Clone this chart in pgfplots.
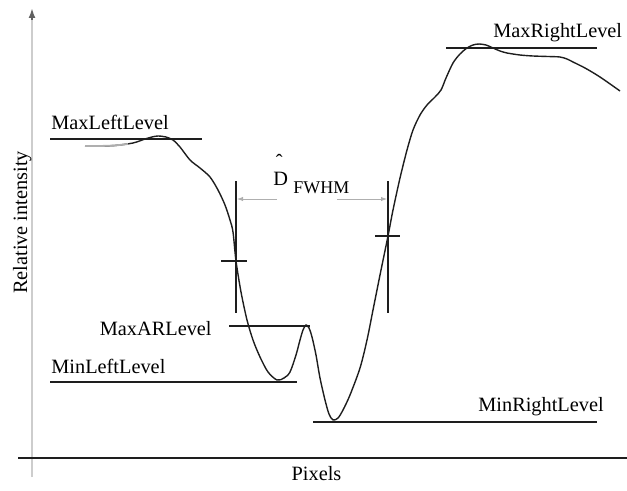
\documentclass[border=0pt]{standalone}
\usepackage{pgfplots}
\pgfplotsset{compat=1.18}
\usepackage{fontspec}
\setmainfont{Liberation Serif}
\usetikzlibrary{arrows.meta}

\definecolor{axisgray}{RGB}{205,205,205}
\definecolor{guidegray}{RGB}{175,175,175}
\definecolor{ink}{RGB}{30,30,30}

% intensity profile across the edge pair
\pgfplotstableread{
x y
85 146
100 146
115 145.5
133 143
145 139
152 137
158 136
166 137
173 140
180 147
190 160
200 168
210 177
218 190
225 205
230 220
233 232
236 261
241 292
247 320
253 340
260 357
268 372
277 380
284 378
290 372
296 355
300 340
303 330
306 325
309 328
312 337
316 355
320 378
325 400
329 414
333 420
338 418
343 410
350 395
360 368
367 340
373 310
380 275
388 236
393 210
400 178
407 150
413 130
420 115
427 105
435 97
441 90
446 78
453 63
460 54
467 48
473 45
479 44
486 45
493 48
500 51
507 53
520 55
533 56
548 56.5
560 57
567 59
573 62
585 68
600 77
620 91
}\profile

\begin{document}
\fontsize{10.2}{12}\selectfont
\begin{tikzpicture}[font=\rmfamily\fontsize{10.2}{12}\selectfont]
\begin{axis}[
  scale only axis,
  width=313.5bp, height=245.5bp,
  xmin=0, xmax=627, ymin=0, ymax=491,
  y dir=reverse,
  hide axis,
  clip=false,
]
% frame axes
\addplot[axisgray, line width=1.4bp, forget plot] coordinates {(32,477) (32,16)};
\addplot[ink!70, line width=1bp, -{Latex[length=5bp,width=3.5bp]}, forget plot] coordinates {(32,20) (32,8)};
\addplot[ink, line width=1bp, forget plot] coordinates {(18,458) (627,458)};

% reference levels
\addplot[ink, line width=0.8bp] coordinates {(50,139) (202,139)};
\addplot[ink, line width=0.8bp] coordinates {(446,48) (597,48)};
\addplot[ink, line width=0.8bp] coordinates {(229,326) (310,326)};
\addplot[ink, line width=0.8bp] coordinates {(50,382) (297,382)};
\addplot[ink, line width=0.8bp] coordinates {(313,422) (597,422)};

% half-maximum crossings
\addplot[ink, line width=0.8bp] coordinates {(236,181) (236,313)};
\addplot[ink, line width=0.8bp] coordinates {(221,261) (247,261)};
\addplot[ink, line width=0.8bp] coordinates {(388,181) (388,313)};
\addplot[ink, line width=0.8bp] coordinates {(375,236) (400,236)};

% width arrows
\addplot[guidegray, line width=0.45bp, -{Latex[length=3bp,width=2.2bp]}] coordinates {(277,199) (237,199)};
\addplot[guidegray, line width=0.45bp, -{Latex[length=3bp,width=2.2bp]}] coordinates {(337,199) (387,199)};

% profile
\addplot[ink, line width=0.7bp, smooth, tension=0.5] table[x=x, y=y] {\profile};
\addplot[guidegray, line width=0.9bp] coordinates {(85,146) (100,146) (115,145.5) (128,144)};

% labels
\node[anchor=base west, inner sep=0pt] at (axis cs:51,130) {MaxLeftLevel};
\node[anchor=base west, inner sep=0pt] at (axis cs:493,38) {MaxRightLevel};
\node[anchor=base east, inner sep=0pt] at (axis cs:212,335) {MaxARLevel};
\node[anchor=base west, inner sep=0pt] at (axis cs:51,373) {MinLeftLevel};
\node[anchor=base west, inner sep=0pt] at (axis cs:478,411) {MinRightLevel};
\node[anchor=base, inner sep=0pt] at (axis cs:316.5,480) {Pixels};
\node[anchor=base, inner sep=0pt, rotate=90] at (axis cs:27,222.5) {Relative intensity};
\node[anchor=base west, inner sep=0pt] at (axis cs:273,185)
  {\rlap{\raisebox{8.5bp}{\hspace{1.2bp}\char"02C6}}D};
\node[anchor=base west, inner sep=0pt, font=\rmfamily\fontsize{9}{10}\selectfont] at (axis cs:293,193) {FWHM};
\end{axis}
\pgfresetboundingbox
\path (current axis.south west) rectangle (current axis.north east);
\end{tikzpicture}
\end{document}
